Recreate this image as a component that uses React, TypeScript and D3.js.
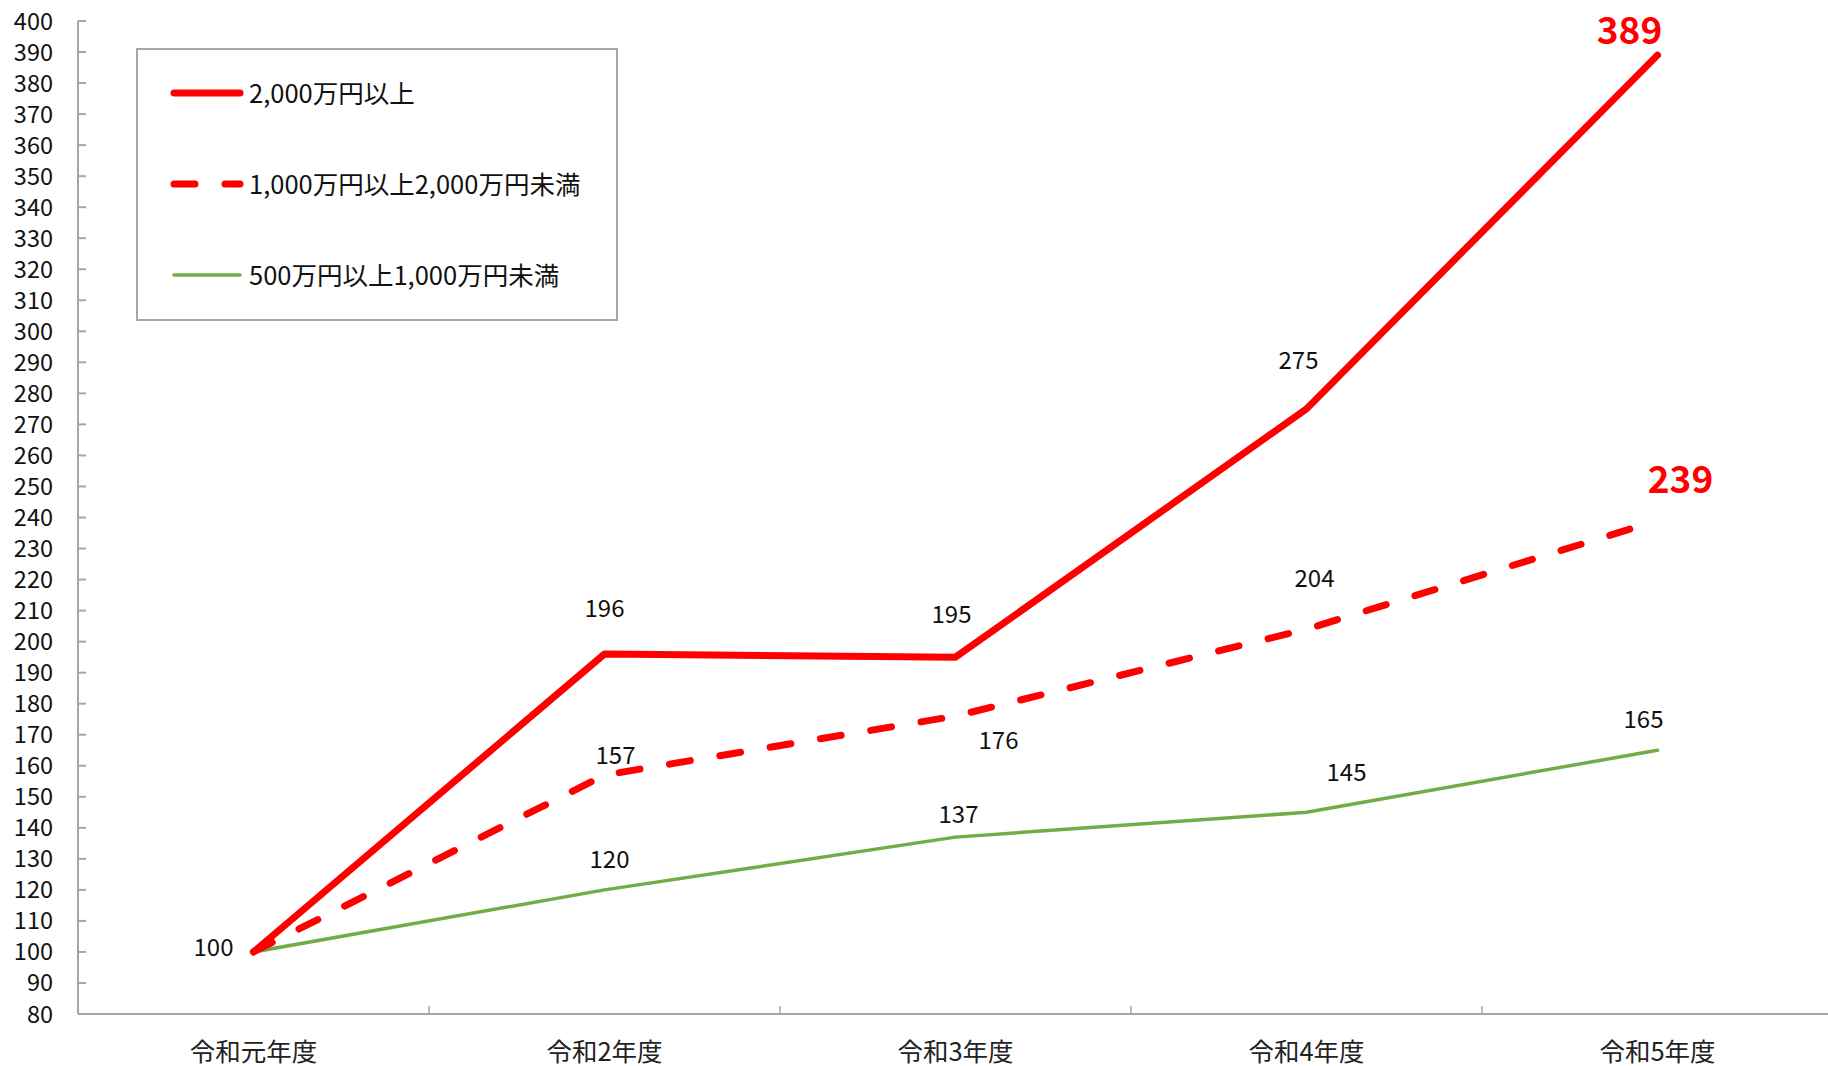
import React from "react";
import * as d3 from "d3";

const categories = ["令和元年度", "令和2年度", "令和3年度", "令和4年度", "令和5年度"];
const seriesNames = ["2,000万円以上", "1,000万円以上2,000万円未満", "500万円以上1,000万円未満"];
const seriesA = [100, 196, 195, 275, 389];
const seriesB = [100, 157, 176, 204, 239];
const seriesC = [100, 120, 137, 145, 165];
const yTicks = d3.range(80, 401, 10);

// label layout (offsets from point centre), null = no label
const offsA: ([number, number] | null)[] = [null, [0, -48], [-4, -45], [-8, -50], [-28, -27]];
const offsB: ([number, number] | null)[] = [null, [11, -22], [43, 22], [8, -53], [23, -44]];
const offsC: ([number, number] | null)[] = [[-40, -6], [5, -32], [3, -25], [40, -42], [-14, -33]];
const boldLast = [true, true, false];

const W = 1828, H = 1066;
const FONT = "'Noto Sans CJK JP', 'Noto Sans', sans-serif";

export default function App() {
  const x = d3.scaleBand<string>().domain(categories).range([78, 78 + 5 * 351]).padding(0);
  const cx = (c: string) => (x(c) as number) + x.bandwidth() / 2;
  const y = d3.scaleLinear().domain([80, 400]).range([1014, 21]);
  const line = d3.line<number>().x((_, i) => cx(categories[i])).y((d) => y(d));

  const series = [
    { values: seriesA, color: "#ff0000", width: 7, dash: undefined as string | undefined, offs: offsA },
    { values: seriesB, color: "#ff0000", width: 7, dash: "21 30", offs: offsB },
    { values: seriesC, color: "#70ad47", width: 3.5, dash: undefined, offs: offsC },
  ];
  const drawOrder = [2, 1, 0];

  return (
    <svg width={W} height={H} style={{ position: "absolute", left: 0, top: 0, background: "#fff" }} fontFamily={FONT}>
      <rect x={0} y={0} width={W} height={H} fill="#fff" />
      {/* y axis */}
      <line x1={78} x2={78} y1={y(400)} y2={y(80)} stroke="#a6a6a6" strokeWidth={2} />
      {yTicks.map((t) => (
        <g key={t}>
          <line x1={78} x2={86} y1={y(t)} y2={y(t)} stroke="#a6a6a6" strokeWidth={2} />
          <text x={53} y={y(t) - 1.5} textAnchor="end" dominantBaseline="central" fontSize={23.5} fill="#111">
            {t}
          </text>
        </g>
      ))}
      {/* x axis */}
      <line x1={78} x2={W} y1={y(80)} y2={y(80)} stroke="#a6a6a6" strokeWidth={2} />
      {categories.slice(1).map((c) => (
        <line key={c} x1={x(c)} x2={x(c)} y1={y(80) - 8} y2={y(80)} stroke="#a6a6a6" strokeWidth={1.5} />
      ))}
      {categories.map((c) => (
        <text key={c} x={cx(c)} y={1049} textAnchor="middle" dominantBaseline="central" fontSize={25.5} fill="#222">
          {c}
        </text>
      ))}
      {/* lines */}
      {drawOrder.map((si) => {
        const s = series[si];
        return (
          <path
            key={si}
            d={line(s.values) || ""}
            fill="none"
            stroke={s.color}
            strokeWidth={s.width}
            strokeDasharray={s.dash}
            strokeLinecap="round"
            strokeLinejoin="round"
          />
        );
      })}
      {/* labels */}
      {series.map((s, si) =>
        s.values.map((v, i) => {
          const o = s.offs[i];
          if (!o) return null;
          const isBold = boldLast[si] && i === s.values.length - 1;
          return (
            <text
              key={`${si}-${i}`}
              x={cx(categories[i]) + o[0]}
              y={y(v) + o[1]}
              textAnchor="middle"
              dominantBaseline="central"
              fontSize={isBold ? 37 : 24}
              fontWeight={isBold ? "bold" : "normal"}
              fill={isBold ? "#ff0000" : "#111"}
            >
              {v}
            </text>
          );
        })
      )}
      {/* legend */}
      <rect x={137} y={49} width={480} height={271} fill="#fff" stroke="#a6a6a6" strokeWidth={2} />
      {series.map((s, si) => {
        const ly = 93 + si * 91;
        return (
          <g key={si}>
            <line
              x1={174}
              x2={240}
              y1={ly}
              y2={ly}
              stroke={s.color}
              strokeWidth={s.width}
              strokeDasharray={s.dash}
              strokeLinecap="round"
            />
            <text x={249} y={ly - 2} dominantBaseline="central" fontSize={25.5} fill="#111">
              {seriesNames[si]}
            </text>
          </g>
        );
      })}
    </svg>
  );
}
